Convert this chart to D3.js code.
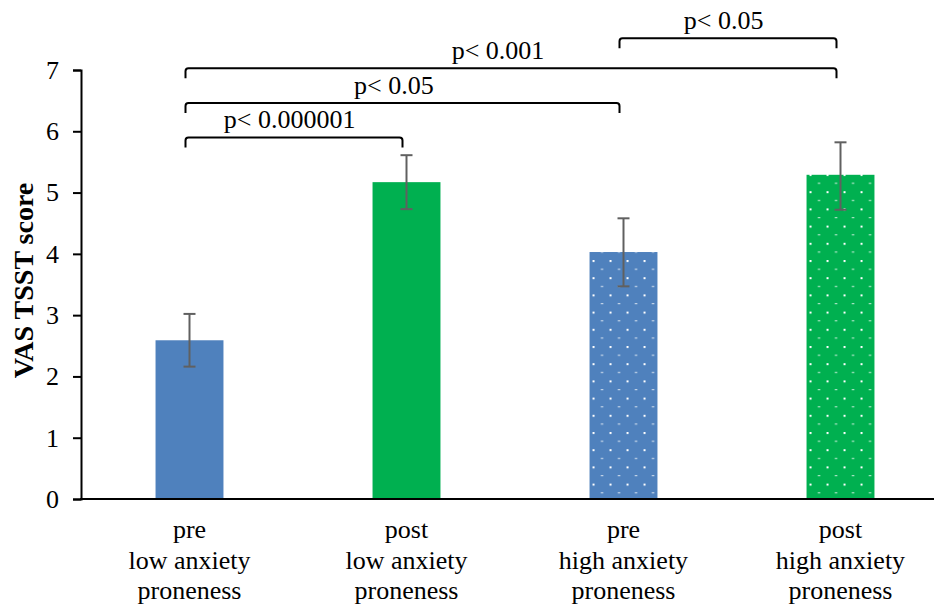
<!DOCTYPE html>
<html>
<head>
<meta charset="utf-8">
<script src="https://cdn.jsdelivr.net/npm/d3@7"></script>
<style>
  body { margin: 0; background: #fff; }
  svg text { font-family: "Liberation Serif", "Times New Roman", serif; fill: #000; }
</style>
</head>
<body>
<svg id="chart" width="934" height="606"></svg>
<script>
// data
const categories = [
  ["pre", "low anxiety", "proneness"],
  ["post", "low anxiety", "proneness"],
  ["pre", "high anxiety", "proneness"],
  ["post", "high anxiety", "proneness"]
];
const means = [2.59, 5.17, 4.03, 5.29];
const errLow = [2.16, 4.73, 3.47, 4.72];
const errHigh = [3.02, 5.61, 4.58, 5.82];
const dotted = [false, false, true, true];
const fills = ["#4F81BD", "#00B050", "#4F81BD", "#00B050"];
const yTicks = [0, 1, 2, 3, 4, 5, 6, 7];
const yLabel = "VAS TSST score";
// significance brackets: from bar, to bar, level (in score units), label
const brackets = [
  { from: 0, to: 1, level: 5.9, label: "p< 0.000001" },
  { from: 0, to: 2, level: 6.46, label: "p< 0.05" },
  { from: 0, to: 3, level: 7.03, label: "p< 0.001" },
  { from: 2, to: 3, level: 7.52, label: "p< 0.05" }
];

const svg = d3.select("#chart");
const W = 934, H = 606;
const margin = { left: 81, right: -15, top: 70, bottom: 107 };

const idx = categories.map((d, i) => i);
const x = d3.scaleBand()
  .domain(idx)
  .range([margin.left, W - margin.right])
  .padding(0);
const y = d3.scaleLinear()
  .domain([0, 7])
  .range([H - margin.bottom, margin.top]);

const barW = x.bandwidth() * 0.313;
const cx = i => x(i) + x.bandwidth() / 2;

// dotted pattern
const defs = svg.append("defs");
fills.forEach((c, i) => {
  if (!dotted[i]) return;
  const p = defs.append("pattern")
    .attr("id", "dots" + i)
    .attr("patternUnits", "userSpaceOnUse")
    .attr("x", cx(i) - barW / 2 + 3)
    .attr("y", 2)
    .attr("width", 17)
    .attr("height", 17.2);
  p.append("rect").attr("width", 17).attr("height", 17.2).attr("fill", c);
  p.append("rect").attr("x", 0).attr("y", 0).attr("width", 2).attr("height", 2).attr("fill", "#fff");
  p.append("rect").attr("x", 8.5).attr("y", 8.6).attr("width", 2).attr("height", 1.2).attr("fill", "#fff").attr("opacity", 0.85);
});

// bars
svg.append("g")
  .selectAll("rect")
  .data(means)
  .join("rect")
  .attr("x", (d, i) => cx(i) - barW / 2)
  .attr("y", d => y(d))
  .attr("width", barW)
  .attr("height", d => y(0) - y(d))
  .attr("fill", (d, i) => dotted[i] ? `url(#dots${i})` : fills[i]);

// error bars
const eg = svg.append("g").attr("stroke", "#606060").attr("stroke-width", 2);
means.forEach((d, i) => {
  const xc = cx(i);
  eg.append("line").attr("x1", xc).attr("x2", xc).attr("y1", y(errLow[i])).attr("y2", y(errHigh[i]));
  eg.append("line").attr("x1", xc - 6).attr("x2", xc + 6).attr("y1", y(errLow[i])).attr("y2", y(errLow[i]));
  eg.append("line").attr("x1", xc - 6).attr("x2", xc + 6).attr("y1", y(errHigh[i])).attr("y2", y(errHigh[i]));
});

// y axis
const yAxis = svg.append("g")
  .attr("transform", `translate(${margin.left},0)`)
  .call(d3.axisLeft(y).tickValues(yTicks).tickFormat(d3.format("d")).tickSize(8).tickPadding(14).tickSizeOuter(8));
yAxis.select(".domain").attr("stroke", "#000").attr("stroke-width", 2);
yAxis.selectAll(".tick line").attr("stroke", "#000").attr("stroke-width", 2);
yAxis.selectAll("text").style("font-size", "26px").style("font-family", "Liberation Serif");

// x axis line
svg.append("line")
  .attr("x1", margin.left - 1).attr("x2", W)
  .attr("y1", y(0)).attr("y2", y(0))
  .attr("stroke", "#000").attr("stroke-width", 2);

// category labels
const cl = svg.append("g")
  .selectAll("text")
  .data(categories)
  .join("text")
  .attr("text-anchor", "middle")
  .style("font-size", "26px");
cl.selectAll("tspan")
  .data((d, i) => d.map(t => ({ t, i })))
  .join("tspan")
  .attr("x", d => cx(d.i))
  .attr("y", (d, j) => 538 + j * 30.5)
  .text(d => d.t);

// y label
svg.append("text")
  .attr("transform", `translate(33,${(y(0) + y(7)) / 2 - 4}) rotate(-90)`)
  .attr("text-anchor", "middle")
  .style("font-size", "28px")
  .style("font-weight", "bold")
  .text(yLabel);

// brackets
const bg = svg.append("g");
const drop = 10, r = 3;
brackets.forEach(b => {
  const x1 = cx(b.from) - 4, x2 = cx(b.to) - 4, yy = y(b.level);
  bg.append("path")
    .attr("d", `M${x1},${yy + drop} L${x1},${yy + r} Q${x1},${yy} ${x1 + r},${yy} L${x2 - r},${yy} Q${x2},${yy} ${x2},${yy + r} L${x2},${yy + drop}`)
    .attr("fill", "none")
    .attr("stroke", "#000")
    .attr("stroke-width", 2);
  bg.append("text")
    .attr("x", x1 + (x2 - x1) * 0.48)
    .attr("y", yy - 9)
    .attr("text-anchor", "middle")
    .style("font-size", "26px")
    .text(b.label);
});
</script>
</body>
</html>
